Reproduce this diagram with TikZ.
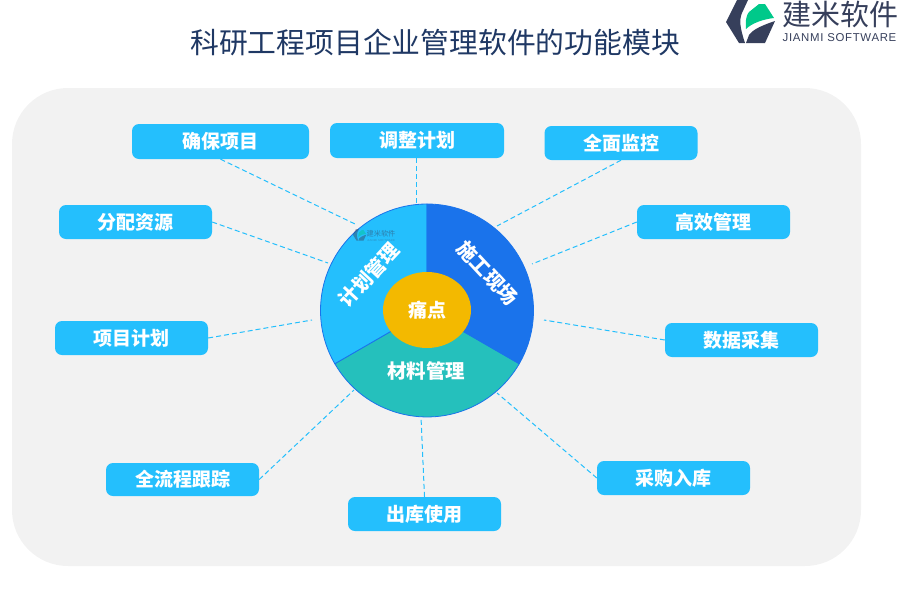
\documentclass[tikz,border=0pt]{standalone}
\usepackage{fontspec}
\usetikzlibrary{shapes.geometric}
\setmainfont{Noto Sans CJK SC}
\newfontfamily\latinfont[LetterSpace=6]{Liberation Sans}
\definecolor{panel}{HTML}{F2F2F2}
\definecolor{skyb}{HTML}{24BFFD}
\definecolor{deepb}{HTML}{1A73EB}
\definecolor{tealc}{HTML}{25C0BC}
\definecolor{gold}{HTML}{F3B900}
\definecolor{navy}{HTML}{1F3864}
\definecolor{logod}{HTML}{363F5B}
\definecolor{logog}{HTML}{00C98A}
\newcommand{\logomark}[2]{%
  \fill[#1] (737,0) -- (748,0) -- (742,13) .. controls (739,20) and (740,28) .. (745,43) -- (739,43) -- (726,22) -- cycle;
  \fill[#1] (775,21) -- (765,43) -- (746,43) -- (749,35) .. controls (752,31) and (757,27) .. (775,21) -- cycle;
  \fill[#2] (746,29) .. controls (745,20) and (747,14) .. (749,12) -- (759,4) -- (765,4) -- (774,18) .. controls (764,19) and (752,23) .. (746,29) -- cycle;
}
\tikzset{
  tagbox/.style={fill=skyb,rounded corners=7pt,text=white,font=\fontsize{19}{19}\selectfont\bfseries,inner sep=0pt,anchor=center,minimum height=34pt,minimum width=153pt},
  link/.style={draw=skyb,dash pattern=on 5pt off 3pt,line width=1pt},
  sector/.style={draw=deepb,line width=0.8pt,line join=round},
  seclabel/.style={text=white,font=\fontsize{19.5}{20}\selectfont\bfseries,inner sep=0pt}
}
\begin{document}
\begin{tikzpicture}[x=1pt,y=-1pt]
\useasboundingbox (0,0) rectangle (900,600);
\fill[panel,rounded corners=56pt] (12,88) rectangle (861,566);
\node[text=navy,font=\fontsize{28.8}{29}\selectfont,inner sep=0pt] (title) at (435,42) {科研工程项目企业管理软件的功能模块};
% logo
\logomark{logod}{logog}
\node[text=logod,font=\fontsize{29}{29}\selectfont,inner sep=0pt] (logotext) at (840,14) {建米软件};
\node[text=logod,font=\latinfont\fontsize{11.4}{12}\selectfont,inner sep=0pt] (logosub) at (839.5,38) {JIANMI SOFTWARE};
% boxes
\node[tagbox,minimum width=177pt,minimum height=35pt] (b1) at (220.5,141.5) {确保项目};
\node[tagbox,minimum width=174pt,minimum height=35pt] (b2) at (417,140.5) {调整计划};
\node[tagbox] (b3) at (621,143) {全面监控};
\node[tagbox] (b4) at (135.5,222) {分配资源};
\node[tagbox] (b5) at (713.5,222) {高效管理};
\node[tagbox] (b6) at (131.5,338) {项目计划};
\node[tagbox] (b7) at (741.5,340) {数据采集};
\node[tagbox,minimum height=33pt] (b8) at (182.5,479.5) {全流程跟踪};
\node[tagbox] (b9) at (424.5,514) {出库使用};
\node[tagbox] (b10) at (673.5,478) {采购入库};
% free ends of the links
\coordinate (e1) at (355,224);
\coordinate (e2) at (416.5,205);
\coordinate (e3) at (497,226);
\coordinate (e4) at (328,263);
\coordinate (e5) at (532,264);
\coordinate (e6) at (312,320);
\coordinate (e7) at (544,320);
\coordinate (e8) at (354,390);
\coordinate (e9) at (421,417);
\coordinate (e10) at (497,393);
\draw[link] (b1.south) -- (e1);
\draw[link] ([xshift=-.5pt]b2.south) -- (e2);
\draw[link] (b3.south) -- (e3);
\draw[link] (b4.east) -- (e4);
\draw[link] (b5.west) -- (e5);
\draw[link] (b6.east) -- (e6);
\draw[link] (b7.west) -- (e7);
\draw[link] (b8.east) -- (e8);
\draw[link] (b9.north) -- (e9);
\draw[link] (b10.west) -- (e10);
% disc
\coordinate (c) at (427,310.5);
\path (c) ++(0,-106.5) coordinate (pt);
\path (c) ++(-92.2,53.2) coordinate (pl);
\path (c) ++(92.2,53.2) coordinate (pr);
\filldraw[sector,fill=tealc] (c) -- (pl) arc[start angle=150,end angle=30,x radius=106.5,y radius=106.5] -- cycle;
\filldraw[sector,fill=skyb] (c) -- (pt) arc[start angle=-90,end angle=-210,x radius=106.5,y radius=106.5] -- cycle;
\filldraw[sector,fill=deepb] (c) -- (pt) arc[start angle=-90,end angle=30,x radius=106.5,y radius=106.5] -- cycle;
% watermark
\begin{scope}[shift={(157,229)},scale=.27,opacity=.45]
\logomark{logod}{logog}
\end{scope}
\node[text=logod,opacity=.5,font=\fontsize{7.2}{8}\selectfont,inner sep=0pt] (wm) at (381,234) {建米软件};
\node[text=logod,opacity=.35,font=\latinfont\fontsize{2.8}{3}\selectfont,inner sep=0pt] (wmsub) at (381,240.5) {JIANMI SOFTWARE};
% ellipse and labels
\node[fill=gold,ellipse,inner sep=0pt,minimum width=88pt,minimum height=76pt,text=white,font=\fontsize{19}{19}\selectfont\bfseries] (pain) at (427,310) {痛点};
\node[seclabel,rotate=47] (s1) at (369,275) {计划管理};
\node[seclabel,rotate=-47] (s2) at (487.5,273) {施工现场};
\node[seclabel] (s3) at (426,371) {材料管理};
\end{tikzpicture}
\end{document}
